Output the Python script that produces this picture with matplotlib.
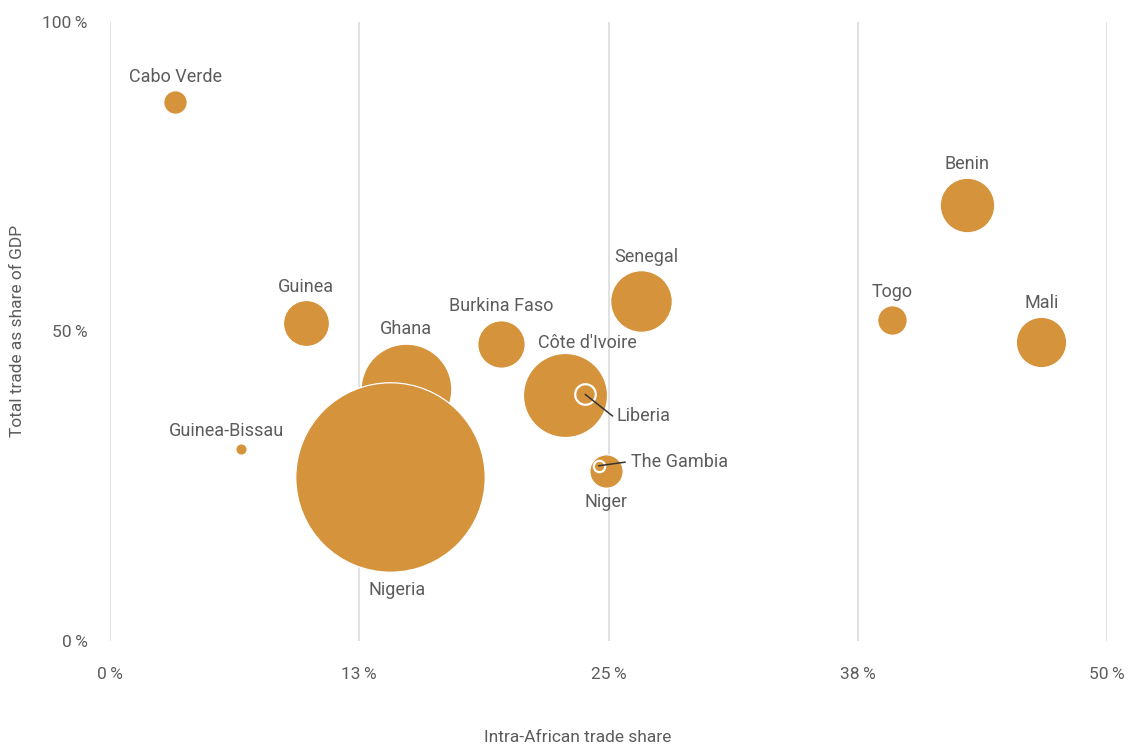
import matplotlib
matplotlib.use("Agg")
import matplotlib.pyplot as plt
from matplotlib.ticker import FixedLocator

plt.rcParams["font.family"] = ["Roboto", "DejaVu Sans"]

countries = ["Cabo Verde", "Guinea", "Guinea-Bissau", "Ghana", "Nigeria", "Burkina Faso",
             "Côte d'Ivoire", "Liberia", "Senegal", "Niger", "The Gambia", "Benin", "Togo", "Mali"]
intra_share = [3.27, 9.85, 6.59, 14.82, 14.04, 19.6, 22.84, 23.83, 26.62, 24.85, 24.5, 42.96, 39.2, 46.7]
trade_gdp = [87.0, 51.3, 31.0, 40.7, 26.5, 48.0, 39.8, 39.85, 54.9, 27.5, 28.3, 70.4, 51.8, 48.3]
bubble = [1.55, 5.9, 0.36, 22.9, 100, 6.27, 19.7, 1.18, 10.6, 3.11, 0.36, 8.3, 2.44, 7.08]

x_ticks = [0, 12.5, 25, 37.5, 50]
x_labels = ["0\u2009%", "13\u2009%", "25\u2009%", "38\u2009%", "50\u2009%"]
y_ticks = [0, 50, 100]
y_labels = ["0\u2009%", "50\u2009%", "100\u2009%"]

# label offsets in pixels (dx, dy up), ha
PX = 0.72
LABEL_POS = {
    "Cabo Verde": (0, 25, "center"), "Guinea": (0, 36.7, "center"),
    "Guinea-Bissau": (-15.3, 18.3, "center"), "Ghana": (0, 59.7, "center"),
    "Nigeria": (6.9, -113, "center"), "Burkina Faso": (0, 37.7, "center"),
    "Côte d'Ivoire": (21.7, 51.4, "center"), "Senegal": (5.8, 44.1, "center"),
    "Liberia": (31.7, -21.4, "left"), "The Gambia": (32.7, 3.7, "left"),
    "Niger": (0, -31, "center"), "Benin": (0, 41.2, "center"),
    "Togo": (0.8, 28.5, "center"), "Mali": (0, 38.7, "center"),
}
LEADERS = {"Liberia": (27.4, -21.7), "The Gambia": (26.7, 3.7)}
RINGED = {"Liberia", "The Gambia"}

ORANGE = "#d5933c"
TEXT = "#5c5c5c"

fig = plt.figure(figsize=(11.39, 7.49), dpi=100)
ax = fig.add_axes([110 / 1139, (749 - 641) / 749, 997 / 1139, 619 / 749])
ax.set_xlim(0, 50)
ax.set_ylim(0, 100)
for s in ax.spines.values():
    s.set_visible(False)
ax.xaxis.set_major_locator(FixedLocator(x_ticks))
ax.set_xticklabels(x_labels)
ax.yaxis.set_major_locator(FixedLocator(y_ticks))
ax.set_yticklabels(y_labels)
ax.tick_params(axis="both", length=0, labelsize=12.5, labelcolor=TEXT)
ax.tick_params(axis="x", pad=19)
ax.tick_params(axis="y", pad=16)
ax.grid(axis="x", color="#dcdcdc", linewidth=1.2)
ax.set_axisbelow(True)

for i, name in enumerate(countries):
    ring = name in RINGED
    ax.scatter(intra_share[i], trade_gdp[i], s=bubble[i] * 186, color=ORANGE,
               edgecolor="white", linewidth=1.6 if ring else 0.9, zorder=3 + i * 0.01)
    dx, dy, ha = LABEL_POS[name]
    ax.annotate(name, (intra_share[i], trade_gdp[i]), xytext=(dx * PX, dy * PX),
                textcoords="offset points", ha=ha, va="center", fontsize=13,
                color=TEXT, zorder=5)
    if name in LEADERS:
        lx, ly = LEADERS[name]
        ax.annotate("", (intra_share[i], trade_gdp[i]), xytext=(lx * PX, ly * PX),
                    textcoords="offset points",
                    arrowprops=dict(arrowstyle="-", color="#333333", lw=1.1,
                                    shrinkA=0, shrinkB=0), zorder=6)

fig.text(578 / 1139, 1 - 738 / 749, "Intra-African trade share", ha="center", va="center",
         fontsize=12.5, color=TEXT)
fig.text(18 / 1139, 1 - 331 / 749, "Total trade as share of GDP", ha="center", va="center",
         rotation=90, fontsize=12.5, color=TEXT)

fig.savefig("out.png", dpi=100)
